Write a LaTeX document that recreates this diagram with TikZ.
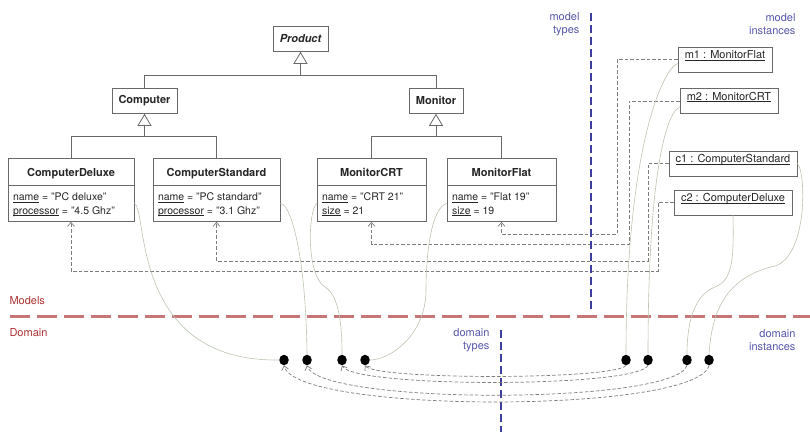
\documentclass[tikz,border=0pt]{standalone}
\usepackage{fontspec}
\setmainfont{TeX Gyre Heros}
\usetikzlibrary{arrows.meta}
\usetikzlibrary{shapes, calc}

\definecolor{clsgray}{RGB}{105,105,105}
\definecolor{linkgray}{RGB}{125,125,125}
\definecolor{tracegray}{RGB}{186,198,176}
\definecolor{modelred}{RGB}{198,118,118}
\definecolor{labelred}{RGB}{172,50,50}
\definecolor{splitblue}{RGB}{62,62,158}
\definecolor{labelblue}{RGB}{86,86,172}

\newcommand{\attr}[1]{\underline{\smash{#1}}}
\newcommand{\hdr}[1]{\rule[-5pt]{0pt}{20pt}{\fontsize{11}{13}\selectfont\bfseries #1}}

\begin{document}
\begin{tikzpicture}[x=1pt, y=1pt,
		every node/.style={font=\fontsize{10.5}{13.5}\selectfont, text=black!85},
		cls/.style={draw=clsgray, line width=0.8pt, fill=white, anchor=north, minimum height=25pt,
			font=\fontsize{11}{13}\selectfont\bfseries},
		leaf/.style={rectangle split, rectangle split parts=2, rectangle split part align={center,left},
			draw=clsgray, line width=0.8pt, anchor=north, inner xsep=5pt, inner ysep=3pt, align=left},
		inst/.style={draw=clsgray, line width=0.8pt, minimum height=25pt, font=\fontsize{11}{13}\selectfont},
		dot/.style={ellipse, fill=black, inner sep=0pt, minimum width=9.5pt, minimum height=10.5pt},
		gen/.style={draw=clsgray, line width=0.8pt},
		trace/.style={draw=tracegray, line width=0.6pt},
		link/.style={draw=linkgray, line width=0.7pt, dash pattern=on 3.5pt off 2pt,
			-{Straight Barb[length=4pt, width=7pt]}},
		lvl/.style={font=\fontsize{11}{13.5}\selectfont, align=right, anchor=east, text=labelblue},
		side/.style={font=\fontsize{11}{13.5}\selectfont, anchor=west, text=labelred}]
\useasboundingbox (0,0) rectangle (810,-432);

% class hierarchy
\node[cls, minimum width=55pt, font=\fontsize{11}{13}\selectfont\bfseries\itshape] (P) at (300.5,-26) {Product};
\node[cls, minimum width=65pt] (C) at (144.5,-88) {Computer};
\node[cls, minimum width=54pt] (M) at (436,-88) {Monitor};
\node[leaf, minimum width=126pt] (CD) at (71,-158)
	{\hdr{ComputerDeluxe}\nodepart{two}\rule{0pt}{12pt}\attr{name} = "PC deluxe"\\\attr{processor} = "4.5 Ghz"\rule[-4pt]{0pt}{4pt}};
\node[leaf, minimum width=127pt] (CS) at (216.5,-158)
	{\hdr{ComputerStandard}\nodepart{two}\rule{0pt}{12pt}\attr{name} = "PC standard"\\\attr{processor} = "3.1 Ghz"\rule[-4pt]{0pt}{4pt}};
\node[leaf, minimum width=109pt] (MC) at (371.5,-158)
	{\hdr{MonitorCRT}\nodepart{two}\rule{0pt}{12pt}\attr{name} = "CRT 21"\\\attr{size} = 21\rule[-4pt]{0pt}{4pt}};
\node[leaf, minimum width=109pt] (MF) at (501.5,-158)
	{\hdr{MonitorFlat}\nodepart{two}\rule{0pt}{12pt}\attr{name} = "Flat 19"\\\attr{size} = 19\rule[-4pt]{0pt}{4pt}};

\coordinate (Pj) at ($(P.south)+(0,-24)$);
\coordinate (Cj) at ($(C.south)+(0,-23)$);
\coordinate (Mj) at ($(M.south)+(0,-23)$);
\draw[gen] (C.north) |- (Pj) -| (M.north);
\draw[gen] (CD.north) |- (Cj) -| (CS.north);
\draw[gen] (MC.north) |- (Mj) -| (MF.north);
\draw[gen, -{Triangle[open, length=12pt, width=14pt]}] (Pj) -- (P.south);
\draw[gen, -{Triangle[open, length=12pt, width=14pt]}] (Cj) -- (C.south);
\draw[gen, -{Triangle[open, length=12pt, width=14pt]}] (Mj) -- (M.south);

% model instances
\node[inst, minimum width=94pt] (m1) at (725,-59.5) {\attr{m1 : MonitorFlat}};
\node[inst, minimum width=98pt] (m2) at (729,-101) {\attr{m2 : MonitorCRT}};
\node[inst, minimum width=128pt] (c1) at (733,-163.5) {\attr{c1 : ComputerStandard}};
\node[inst, minimum width=118pt] (c2) at (733,-202.5) {\attr{c2 : ComputerDeluxe}};

\draw[link] (m1.west) -| (617,-234) -| (MF.south);
\draw[link] (m2.west) -| (629,-244) -| (MC.south);
\draw[link] (c1.west) -| (648,-261) -| (CS.south);
\draw[link] (c2.west) -| (658,-271) -| (CD.south);

% separators
\draw[draw=splitblue, line width=2pt, dash pattern=on 8pt off 4pt] (591,-13) -- (591,-310);
\draw[draw=splitblue, line width=2pt, dash pattern=on 8pt off 4pt] (501,-330) -- (501,-432);
\draw[draw=modelred, line width=3pt, dash pattern=on 20pt off 7pt] (10,-316) -- (810,-316);

\node[lvl] (mt) at (583,-24) {model\\types};
\node[lvl] (mi) at (799,-24) {model\\instances};
\node[lvl] (dt) at (493,-340) {domain\\types};
\node[lvl] (di) at (799,-340) {domain\\instances};
\node[side] (mo) at (6,-301) {Models};
\node[side] (do) at (6,-333) {Domain};

% domain objects
\node[dot] (t1) at (284,-360) {};
\node[dot] (t2) at (307,-360) {};
\node[dot] (t3) at (342,-360) {};
\node[dot] (t4) at (365,-360) {};
\node[dot] (i1) at (626,-360) {};
\node[dot] (i2) at (648,-360) {};
\node[dot] (i3) at (687,-360) {};
\node[dot] (i4) at (709,-360) {};

\draw[trace] (CD.two east) .. controls (148,-210) and (130,-362) .. (t1.west);
\draw[trace] (CS.two east) .. controls (292,-205) and (306,-260) .. (t2.north);
\draw[trace] (MC.two west) .. controls (308,-212) and (306,-275) .. (325,-287) .. controls (338,-295) and (342,-320) .. (t3.north);
\draw[trace] (MF.two west) .. controls (432,-208) and (426,-250) .. (426,-290) .. controls (426,-335) and (390,-360) .. (t4.east);
\draw[trace] ([yshift=-4pt]m1.west) .. controls (662,-70) and (626,-150) .. (i1.north);
\draw[trace] ([yshift=-6pt]m2.west) .. controls (665,-114) and (648,-180) .. (i2.north);
\draw[trace] (c2.south) .. controls (734,-262) and (732,-280) .. (715,-287) .. controls (695,-295) and (687,-320) .. (i3.north);
\draw[trace] (c1.east) .. controls (806,-172) and (808,-255) .. (775,-266) .. controls (735,-275) and (712,-300) .. (i4.north);

\draw[link] (i1.south) .. controls (614,-380) and (376,-380) .. (t4.south);
\draw[link] (i2.south) .. controls (636,-388) and (354,-388) .. (t3.south);
\draw[link] (i3.south) .. controls (675,-405) and (319,-405) .. (t2.south);
\draw[link] (i4.south) .. controls (697,-414) and (296,-414) .. (t1.south);
\end{tikzpicture}
\end{document}
